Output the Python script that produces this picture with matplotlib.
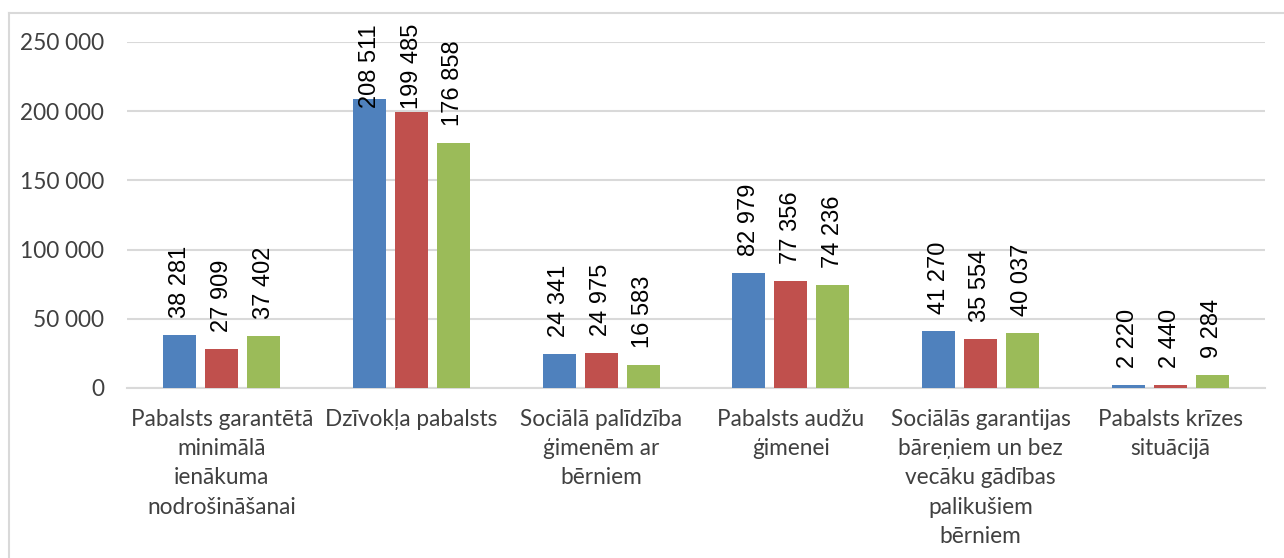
import numpy as np
import matplotlib.pyplot as plt
from matplotlib.lines import Line2D

categories = [
    "Pabalsts garantētā\nminimālā\nienākuma\nnodrošināšanai",
    "Dzīvokļa pabalsts",
    "Sociālā palīdzība\nģimenēm ar\nbērniem",
    "Pabalsts audžu\nģimenei",
    "Sociālās garantijas\nbāreņiem un bez\nvecāku gādības\npalikušiem\nbērniem",
    "Pabalsts krīzes\nsituācijā",
]
series_1 = [38281, 208511, 24341, 82979, 41270, 2220]
series_2 = [27909, 199485, 24975, 77356, 35554, 2440]
series_3 = [37402, 176858, 16583, 74236, 40037, 9284]
yticks = [0, 50000, 100000, 150000, 200000, 250000]

colors = ["#4F81BD", "#C0504D", "#9BBB59"]
grid_c = "#D9D9D9"
txt_c = "#404040"

plt.rcParams['font.family'] = ['Lato', 'DejaVu Sans']

fig = plt.figure(figsize=(12.84, 5.58), dpi=100)
ax = fig.add_axes([127/1284, 1 - 388/558, (1265-127)/1284, (388-42)/558])

x = np.arange(len(categories))
width = 0.174
step = 0.221
ymax = 250000
gap = 12300          # space between bar top and its label
top_limit = 263000   # labels may not go higher than this
digit_len = 10200    # rough label length per character, data units

def fmt(v):
    return f"{v:,}".replace(",", " ")

for k, (vals, c) in enumerate(zip([series_1, series_2, series_3], colors)):
    pos = x + (k - 1) * step
    ax.bar(pos, vals, width=width, color=c, zorder=3)
    for p, v in zip(pos, vals):
        s = fmt(v)
        if v + gap + digit_len * len(s) > top_limit:
            ax.text(p, top_limit, s, rotation=90, ha='center', va='top',
                    fontsize=17, family='Liberation Sans', color='black',
                    clip_on=False, zorder=4)
        else:
            ax.text(p, v + gap, s, rotation=90, ha='center', va='bottom',
                    fontsize=17, family='Liberation Sans', color='black',
                    clip_on=False, zorder=4)

ax.set_xlim(-0.5, len(categories) - 0.5)
ax.set_ylim(0, ymax)
ax.set_yticks(yticks)
ax.set_yticklabels([fmt(t) for t in yticks], fontsize=16.3, color=txt_c)
ax.set_xticks(x)
ax.set_xticklabels(categories, fontsize=16.3, color=txt_c, linespacing=1.49)
ax.tick_params(axis='both', length=0)
ax.tick_params(axis='y', pad=16.5)
ax.tick_params(axis='x', pad=15)
ax.yaxis.grid(True, color=grid_c, linewidth=1.5, zorder=0)
for s in ['top', 'right', 'left']:
    ax.spines[s].set_visible(False)
ax.spines['bottom'].set_color(grid_c)
ax.spines['bottom'].set_linewidth(1.5)

# chart area border (top and left visible)
fig.add_artist(Line2D([9/1284, 1.0], [1 - 13/558, 1 - 13/558], color=grid_c, lw=1.5,
                      transform=fig.transFigure))
fig.add_artist(Line2D([9/1284, 9/1284], [0, 1 - 13/558], color=grid_c, lw=1.5,
                      transform=fig.transFigure))

fig.savefig("out.png", dpi=100)
